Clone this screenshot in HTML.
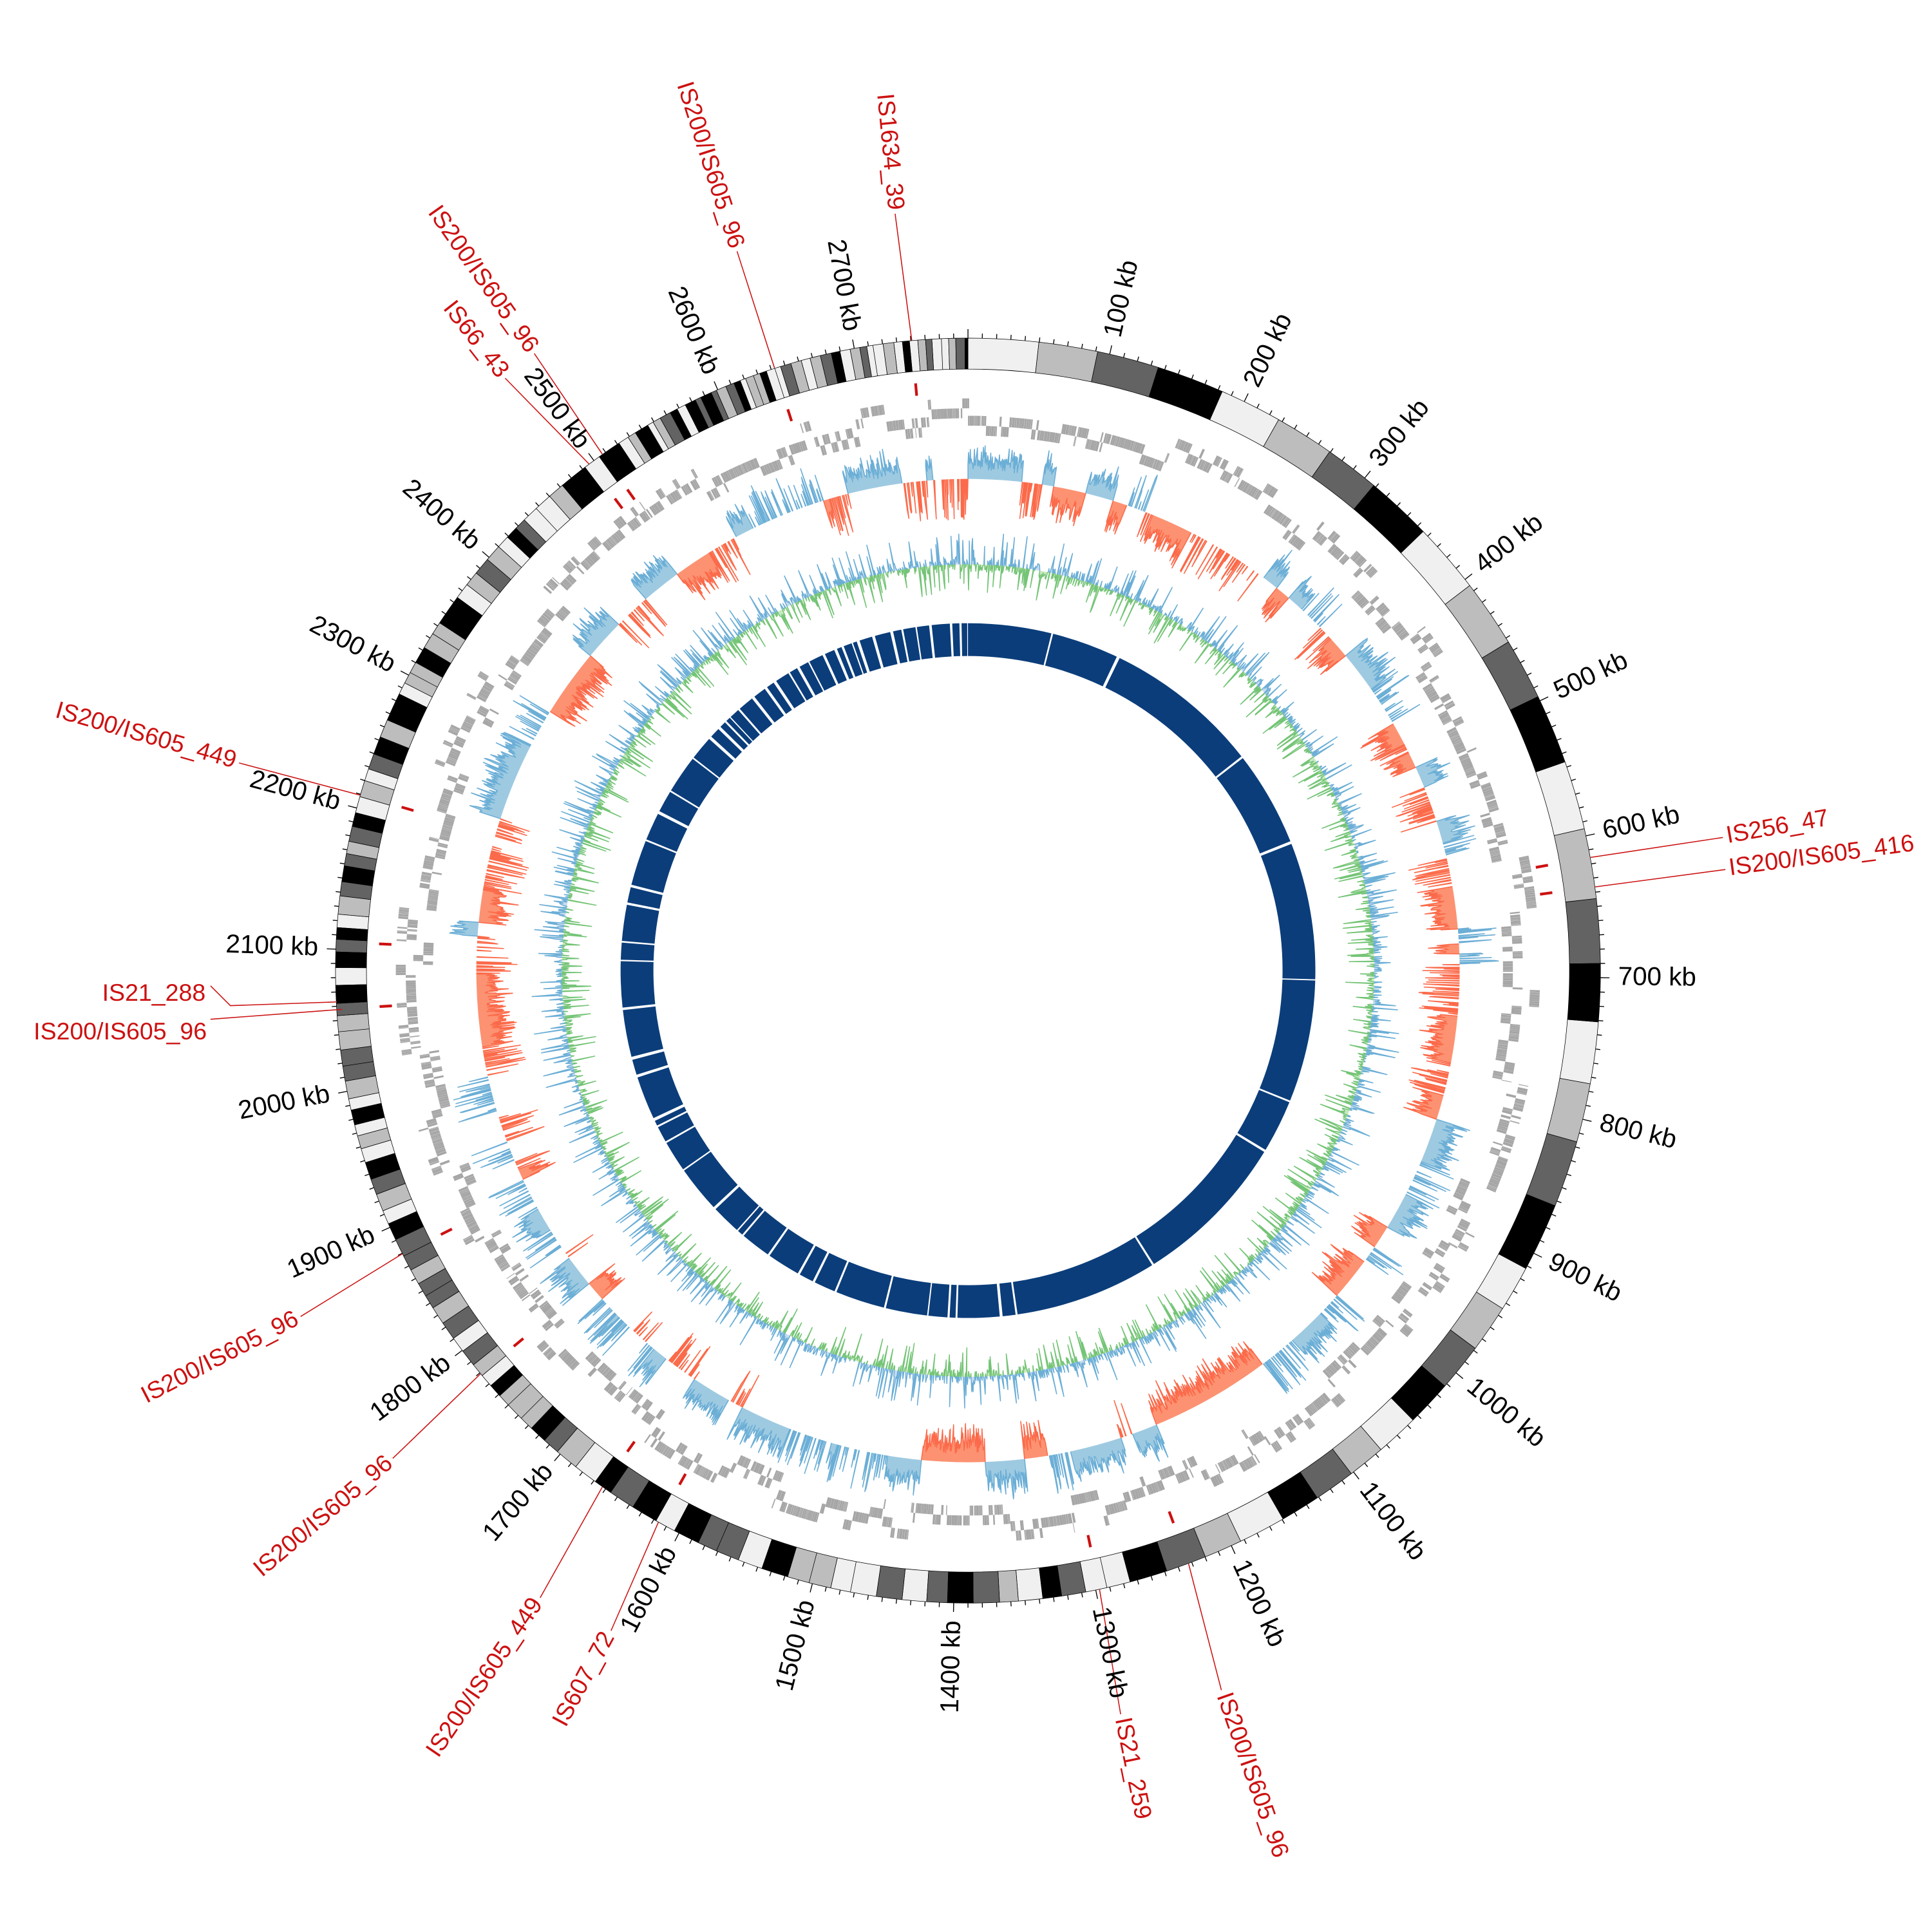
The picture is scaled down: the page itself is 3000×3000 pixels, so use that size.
<!DOCTYPE html>
<html><head><meta charset="utf-8"><style>
html,body{margin:0;padding:0;background:#fff;}
svg{display:block;}
.kb{font-family:"Liberation Sans Narrow","Liberation Sans",sans-serif;font-size:21px;fill:#000;dominant-baseline:middle;}
.is{font-family:"Liberation Sans Narrow","Liberation Sans",sans-serif;font-size:19.5px;fill:#cc1111;dominant-baseline:middle;}
</style></head><body>
<svg id="s" width="3000" height="3000" viewBox="0 0 1560 1560" xmlns="http://www.w3.org/2000/svg">
<g id="tracks"></g>
<g id="leaders" stroke="#cc1111" stroke-width="0.8" fill="none"></g>
<g>
<text class="kb" x="1306.6" y="783.7" transform="rotate(-77.05 781.6 783.7)">100 kb</text>
<text class="kb" x="1306.6" y="783.7" transform="rotate(-64.10 781.6 783.7)">200 kb</text>
<text class="kb" x="1306.6" y="783.7" transform="rotate(-51.15 781.6 783.7)">300 kb</text>
<text class="kb" x="1306.6" y="783.7" transform="rotate(-38.20 781.6 783.7)">400 kb</text>
<text class="kb" x="1306.6" y="783.7" transform="rotate(-25.25 781.6 783.7)">500 kb</text>
<text class="kb" x="1306.6" y="783.7" transform="rotate(-12.30 781.6 783.7)">600 kb</text>
<text class="kb" x="1306.6" y="783.7" transform="rotate(0.65 781.6 783.7)">700 kb</text>
<text class="kb" x="1306.6" y="783.7" transform="rotate(13.60 781.6 783.7)">800 kb</text>
<text class="kb" x="1306.6" y="783.7" transform="rotate(26.55 781.6 783.7)">900 kb</text>
<text class="kb" x="1306.6" y="783.7" transform="rotate(39.50 781.6 783.7)">1000 kb</text>
<text class="kb" x="1306.6" y="783.7" transform="rotate(52.45 781.6 783.7)">1100 kb</text>
<text class="kb" x="1306.6" y="783.7" transform="rotate(65.40 781.6 783.7)">1200 kb</text>
<text class="kb" x="1306.6" y="783.7" transform="rotate(78.35 781.6 783.7)">1300 kb</text>
<text class="kb" x="256.6" y="783.7" text-anchor="end" transform="rotate(-88.71 781.6 783.7)">1400 kb</text>
<text class="kb" x="256.6" y="783.7" text-anchor="end" transform="rotate(-75.76 781.6 783.7)">1500 kb</text>
<text class="kb" x="256.6" y="783.7" text-anchor="end" transform="rotate(-62.81 781.6 783.7)">1600 kb</text>
<text class="kb" x="256.6" y="783.7" text-anchor="end" transform="rotate(-49.86 781.6 783.7)">1700 kb</text>
<text class="kb" x="256.6" y="783.7" text-anchor="end" transform="rotate(-36.91 781.6 783.7)">1800 kb</text>
<text class="kb" x="256.6" y="783.7" text-anchor="end" transform="rotate(-23.96 781.6 783.7)">1900 kb</text>
<text class="kb" x="256.6" y="783.7" text-anchor="end" transform="rotate(-11.01 781.6 783.7)">2000 kb</text>
<text class="kb" x="256.6" y="783.7" text-anchor="end" transform="rotate(1.94 781.6 783.7)">2100 kb</text>
<text class="kb" x="256.6" y="783.7" text-anchor="end" transform="rotate(14.89 781.6 783.7)">2200 kb</text>
<text class="kb" x="256.6" y="783.7" text-anchor="end" transform="rotate(27.84 781.6 783.7)">2300 kb</text>
<text class="kb" x="256.6" y="783.7" text-anchor="end" transform="rotate(40.79 781.6 783.7)">2400 kb</text>
<text class="kb" x="256.6" y="783.7" text-anchor="end" transform="rotate(53.74 781.6 783.7)">2500 kb</text>
<text class="kb" x="256.6" y="783.7" text-anchor="end" transform="rotate(66.69 781.6 783.7)">2600 kb</text>
<text class="kb" x="256.6" y="783.7" text-anchor="end" transform="rotate(79.64 781.6 783.7)">2700 kb</text>
</g>
<g>
<text class="is" x="164.6" y="783.7" text-anchor="end" transform="rotate(84.5 781.6 783.7)">IS1634_39</text>
<text class="is" x="168.6" y="783.7" text-anchor="end" transform="rotate(72.2 781.6 783.7)">IS200/IS605_96</text>
<text class="is" x="169.6" y="783.7" text-anchor="end" transform="rotate(54.9 781.6 783.7)">IS200/IS605_96</text>
<text class="is" x="171.6" y="783.7" text-anchor="end" transform="rotate(52.0 781.6 783.7)">IS66_43</text>
<text class="is" x="166.6" y="783.7" text-anchor="end" transform="rotate(15.9 781.6 783.7)">IS200/IS605_449</text>
<text class="is" x="1403.6" y="783.7" transform="rotate(-10.0 781.6 783.7)">IS256_47</text>
<text class="is" x="1401.6" y="783.7" transform="rotate(-7.6 781.6 783.7)">IS200/IS605_416</text>
<text class="is" x="166" y="803" text-anchor="end">IS21_288</text>
<text class="is" x="167" y="834" text-anchor="end">IS200/IS605_96</text>
<text class="is" x="171.6" y="783.7" text-anchor="end" transform="rotate(-27.4 781.6 783.7)">IS200/IS605_96</text>
<text class="is" x="169.6" y="783.7" text-anchor="end" transform="rotate(-40.3 781.6 783.7)">IS200/IS605_96</text>
<text class="is" x="165.6" y="783.7" text-anchor="end" transform="rotate(-55.7 781.6 783.7)">IS200/IS605_449</text>
<text class="is" x="172.6" y="783.7" text-anchor="end" transform="rotate(-61.6 781.6 783.7)">IS607_72</text>
<text class="is" x="1397.6" y="783.7" transform="rotate(78.4 781.6 783.7)">IS21_259</text>
<text class="is" x="1400.6" y="783.7" transform="rotate(70.6 781.6 783.7)">IS200/IS605_96</text>
</g>
</svg>
<script>
(function(){
var NS="http://www.w3.org/2000/svg";
var cx=781.6,cy=783.7,L=2780;
var seed=12345;
function R(){seed|=0;seed=seed+0x6D2B79F5|0;var t=Math.imul(seed^seed>>>15,1|seed);t=t+Math.imul(t^t>>>7,61|t)^t;return((t^t>>>14)>>>0)/4294967296;}
function pd(r,deg){var a=deg*Math.PI/180;return [cx+r*Math.sin(a),cy-r*Math.cos(a)];}
function pk(r,kb){return pd(r,kb/L*360);}
function f(p){return p[0].toFixed(2)+","+p[1].toFixed(2);}
function wedge(k1,k2,r1,r2){
 var a1=k1/L*360,a2=k2/L*360,lg=(a2-a1)>180?1:0;
 return "M"+f(pd(r2,a1))+"A"+r2+","+r2+" 0 "+lg+" 1 "+f(pd(r2,a2))+"L"+f(pd(r1,a2))+"A"+r1+","+r1+" 0 "+lg+" 0 "+f(pd(r1,a1))+"Z";
}
var G=document.getElementById("tracks");
function path(d,fill,stroke,sw){var p=document.createElementNS(NS,"path");p.setAttribute("d",d);p.setAttribute("fill",fill||"none");if(stroke){p.setAttribute("stroke",stroke);p.setAttribute("stroke-width",sw||1);p.setAttribute("stroke-linejoin","round");}G.appendChild(p);return p;}
// ideogram
var cols=["#f0f0f0","#bdbdbd","#636363","#000000"];
var pos=0,ci=0,dd={};
cols.forEach(function(c){dd[c]="";});
while(pos<L){
 var w;
 if(pos<900)w=38+R()*12;else if(pos<1250)w=26+R()*10;else if(pos<1700)w=13+R()*6;else if(pos<2500)w=8+R()*5;else w=4+R()*4;
 var e=Math.min(L,pos+w);
 var c=cols[ci%4];
 if(pos>1250&&R()<0.35)c=cols[Math.floor(R()*4)];
 dd[c]+=wedge(pos,e,485.7,510.7);
 pos=e;ci++;
}
cols.forEach(function(c){path(dd[c],c,"#000",0.4);});
// ticks
var td="";
for(var k=0;k<L;k+=10){var big=(k%100===0);td+="M"+f(pk(510.7,k))+"L"+f(pk(big?518:514.5,k));}
path(td,null,"#000",0.7);
// genes
var gd="",gl2="";
var tiers=[[454,462],[446,454],[440,448],[432,440]];
pos=0;var strand=0,run=0,sub=0;
while(pos<L){
 if(run<=0){strand=R()<0.5?0:1;sub=R()<0.5?0:1;run=4+Math.floor(R()*30);}
 if(R()<0.15)sub=1-sub;
 var gl=0.5+R()*1.6;
 var tr=tiers[strand*2+sub];
 if(R()<0.97){gd+=wedge(pos,pos+gl,tr[0],tr[1]);}
 pos+=gl+0.03+R()*0.12;run--;
}
path(gd,"#a6a6a6");
// IS markers
var marks=[354.9,342.2,324.7,323.2,286.1,79.7,82.4,272.6,266.5,243.4,230.4,215.3,209.3,168.0,159.6];
var md="";
marks.forEach(function(a){md+="M"+f(pd(466,a))+"L"+f(pd(476,a));});
path(md,null,"#cc1111",2.2);
// leaders
var LG=document.getElementById("leaders");
function ln(pts){var p=document.createElementNS(NS,"polyline");p.setAttribute("points",pts.map(f).join(" "));LG.appendChild(p);}
var lead=[[354.9,354.5,614],[342.2,342.2,610],[324.7,324.9,609],[323.2,322.0,607],[286.1,285.9,612],[79.7,80.0,619],[82.4,82.4,617],[243.4,242.6,607],[230.4,229.7,609],[215.3,214.3,613],[209.3,208.4,606],[168.0,168.4,613],[159.6,160.6,616]];
lead.forEach(function(l){ln([pd(511,l[0]),pd(l[2],l[1])]);});
ln([[170,796],[186,812],[272,809]]);
ln([[170,823],[276,815]]);
// GC skew
var N=L*2,v=[],i=0;
while(i<N){
 var sl=10+Math.floor(R()*70),sg=R()<0.5?1:-1,dense=R()<0.5;
 if(i<80){sg=1;dense=true;}
 for(var j=0;j<sl&&i<N;j++,i++){
  var x;
  if(dense)x=0.2+0.35*R()+0.45*Math.pow(R(),3);
  else x=(R()<0.3)?(0.2+0.8*R()):0;
  v.push(sg*Math.min(1,x));
 }
}
function track(vals,base,ampP,ampN,fp,lp,fn,ln2){
 var n=vals.length;
 function one(sign,amp,fill,line){
  var fd="",sd="",cur=null;
  function close(kbEnd){
   cur.pts.push(pk(base,kbEnd));
   var s="M"+cur.pts.map(f).join("L");
   sd+=s;
   var a1=cur.start/L*360,a2=kbEnd/L*360,lg=(a2-a1)>180?1:0;
   fd+=s+"A"+base+","+base+" 0 "+lg+" 0 "+f(pd(base,a1))+"Z";
   cur=null;
  }
  for(var q=0;q<=n;q++){
   var val=vals[q%n]*sign;var kb=q/n*L;
   if(val>0&&q<n){
    var p=pk(base+sign*amp*val,kb);
    if(cur===null){cur={start:kb,pts:[pk(base,kb)]};}
    cur.pts.push(p);
   } else if(cur!==null){close(kb);}
  }
  path(fd,fill);path(sd,null,line,0.8);
 }
 one(1,ampP,fp,lp);one(-1,ampN,fn,ln2);
}
track(v,397,32,33,"#9ecae1","#6baed6","#fc9272","#fb6a4a");
// GC content
var g=[];
for(i=0;i<L*1.5;i++){
 var y=(R()-0.5)*0.5;
 if(R()<0.18)y=(R()<0.5?1:-1)*(0.4+0.6*R());
 g.push(Math.max(-1,Math.min(1,y)));
}
track(g,328,26,24,"#c6dbef","#6baed6","#c7e9c0","#74c476");
// navy ring
var nd="";pos=0;
while(pos<L){
 var s;
 if(pos<1300)s=25+R()*190;else if(pos<2400)s=6+R()*60;else s=2+R()*22;
 var e2=Math.min(L-1,pos+s);
 nd+=wedge(pos,e2,254,280.5);
 pos=e2+1.5+R()*2.5;
}
path(nd,"#0b3d7a");
})();
</script>
</body></html>
